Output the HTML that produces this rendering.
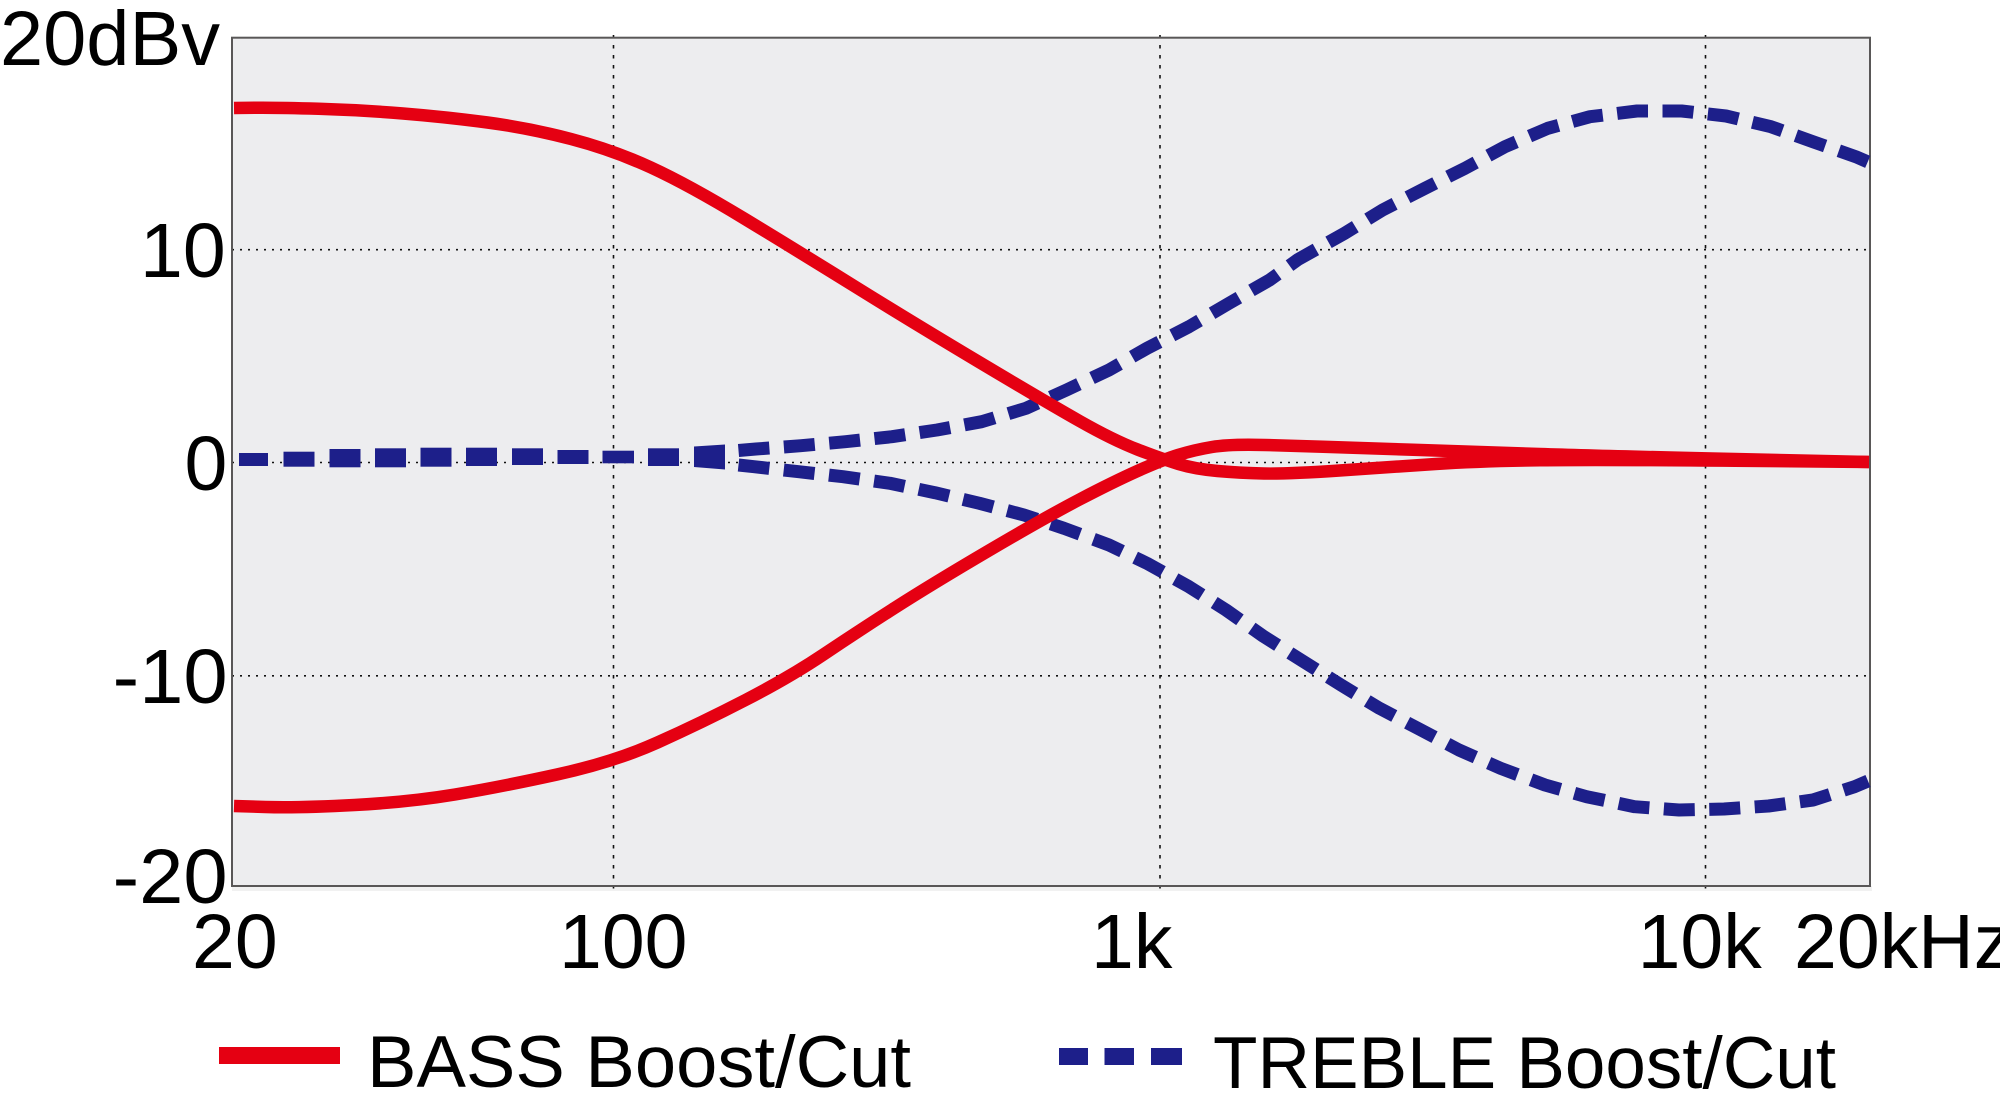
<!DOCTYPE html>
<html><head><meta charset="utf-8"><style>
html,body{margin:0;padding:0;background:#fff;}
svg{display:block;}
text{font-family:"Liberation Sans",Arial,sans-serif;fill:#000;}
</style></head><body>
<svg width="2000" height="1104" viewBox="0 0 2000 1104" xmlns="http://www.w3.org/2000/svg">
<rect x="0" y="0" width="2000" height="1104" fill="#fff"/>
<!-- plot area -->
<rect x="232" y="886" width="1640" height="5" fill="#f1f1f1"/>
<rect x="232" y="37.7" width="1638" height="848.3" fill="#ededef"/>
<!-- grid -->
<g stroke="#111" stroke-width="1.6" fill="none">
<line x1="232" y1="249.7" x2="1870" y2="249.7" stroke-dasharray="2 6"/>
<line x1="232" y1="462.5" x2="1870" y2="462.5" stroke-dasharray="2 6"/>
<line x1="232" y1="675.8" x2="1870" y2="675.8" stroke-dasharray="2 6"/>
<line x1="613.5" y1="35" x2="613.5" y2="891" stroke-dasharray="3.5 6.5"/>
<line x1="1160" y1="35" x2="1160" y2="891" stroke-dasharray="3.5 6.5"/>
<line x1="1705.5" y1="35" x2="1705.5" y2="891" stroke-dasharray="3.5 6.5"/>
</g>
<rect x="232" y="37.7" width="1638" height="848.3" fill="none" stroke="#595757" stroke-width="2"/>

<!-- treble low-frequency overlapping dashes (explicit) -->
<g fill="#1d1f8a">
<rect x="239" y="453" width="29" height="13"/>
<rect x="283.5" y="451.7" width="31" height="15"/>
<rect x="329.5" y="449" width="31" height="18.3"/>
<rect x="375" y="448.3" width="31" height="19"/>
<rect x="420.5" y="447.7" width="31" height="19"/>
<rect x="466" y="447.7" width="31" height="18.3"/>
<rect x="512" y="448.3" width="31" height="16.7"/>
<rect x="557.5" y="450" width="31" height="14"/>
<rect x="602.5" y="450.7" width="31.5" height="12.6"/>
<rect x="648" y="448.3" width="31" height="17.7"/>
<polygon points="694,446.5 725,444.5 725,469.5 694,467"/>
</g>

<!-- treble curves (dashed) -->
<g fill="none" stroke="#1d1f8a" stroke-linejoin="round" stroke-width="13" stroke-dasharray="31 14.5">
<polyline points="738.5,450.5 756,449 801,445.7 845.5,441.7 892,436.7 937,430 981.7,421.7 1026,408.3 1066.5,390 1109,370 1147,348.3 1189,326.7 1229,303.3 1269.6,280 1298,259.5 1344.6,233.3 1382.6,210 1425,188.3 1465,168.3 1505,146.7 1547.8,128.3 1590,116.7 1637,111 1681.7,111 1726,116 1771,126.7 1813,141.7 1855.8,156.7 1868,162"/>
<polyline points="738.5,465 754,466.7 798.7,471.7 843,476.7 890,483.3 935,492.7 979.5,503.3 1024,515 1064,528.3 1109,545 1147,563.3 1189,586.7 1226,610 1263,636 1301,660 1341,685 1379.5,708.3 1417.7,728.3 1459,750 1500.6,768.3 1545,785 1586.7,796.7 1634.6,806.7 1679,810 1724,809 1768.5,806 1813,800 1854.6,786.7 1868,781"/>
</g>

<!-- bass curves -->
<g fill="none" stroke="#e50012" stroke-width="12.5" stroke-linejoin="round">
<path d="M234,108 L254.5,107.75 Q277,107.5 318.5,108.75 Q360,110 403,113.5 Q446,117 487.5,122.5 Q529,128 571,139 Q613,150 651,167.5 Q689,185 745,219 Q801,253 856.5,287.5 Q912,322 979,362 Q1046,402 1079.5,421 Q1113,440 1137.5,449.5 Q1162,459 1178.5,464 Q1195,469 1217.5,471 Q1240,473 1264,473.5 Q1288,474 1339.5,470.5 Q1391,467 1435.5,464 Q1480,461 1540,460.25 Q1600,459.5 1735,460.75 L1869,462"/>
<path d="M234,806 L265.5,807 Q299,808 354.5,805 Q410,802 455,794.5 Q500,787 557,774.5 Q614,762 657.5,742.5 Q701,723 745.5,700 Q790,677 823.5,654.5 Q857,632 894.5,608 Q932,584 989,550.5 Q1046,517 1079.5,499.5 Q1113,482 1137.5,471 Q1162,460 1178,455 Q1194,450 1212,447 Q1230,444 1265,445 Q1300,446 1323,446.75 Q1346,447.5 1413,449.75 Q1480,452 1540,454 Q1600,456 1735,459 L1869,462"/>
</g>

<!-- y labels -->
<g font-size="77">
<text x="0" y="65" textLength="220" lengthAdjust="spacingAndGlyphs">20dBv</text>
<text x="140" y="277">10</text>
<text x="184.5" y="490">0</text>
<text x="112.6" y="703" textLength="115" lengthAdjust="spacingAndGlyphs">-10</text>
<text x="112.6" y="903" textLength="115" lengthAdjust="spacingAndGlyphs">-20</text>
<!-- x labels -->
<text x="192" y="968">20</text>
<text x="559" y="968">100</text>
<text x="1091" y="968">1k</text>
<text x="1637.6" y="968">10k</text>
<text x="1794" y="968">20kHz</text>
</g>

<!-- legend -->
<rect x="219" y="1047" width="121" height="17" fill="#e50012"/>
<text x="367" y="1087" font-size="73" textLength="544" lengthAdjust="spacingAndGlyphs">BASS Boost/Cut</text>
<rect x="1059" y="1048" width="29" height="17" fill="#1d1f8a"/>
<rect x="1104.5" y="1048" width="29.5" height="17" fill="#1d1f8a"/>
<rect x="1151" y="1048" width="31" height="17" fill="#1d1f8a"/>
<text x="1213" y="1088" font-size="73" textLength="623" lengthAdjust="spacingAndGlyphs">TREBLE Boost/Cut</text>
</svg>
</body></html>
